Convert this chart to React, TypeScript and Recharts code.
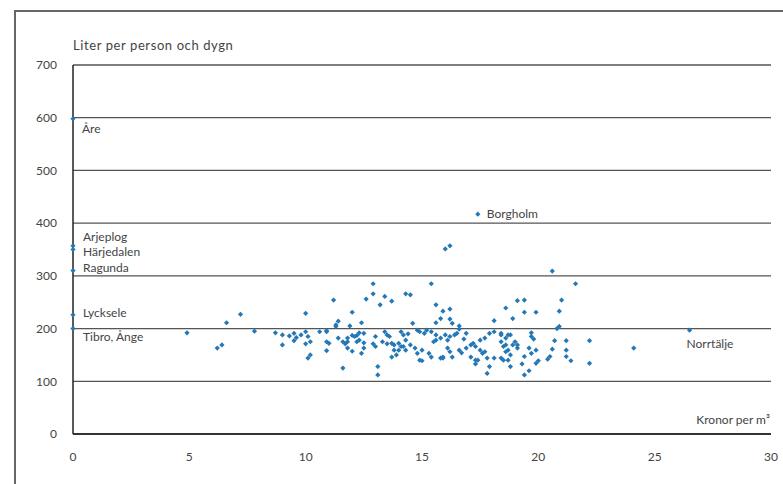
import { CartesianGrid, Scatter, ScatterChart, XAxis, YAxis } from "recharts"

const xTicks = [0, 5, 10, 15, 20, 25, 30]
const yTicks = [0, 100, 200, 300, 400, 500, 600, 700]

// named municipalities
const namedLabels = ["Åre", "Arjeplog", "Härjedalen", "Ragunda", "Lycksele", "Tibro, Ånge", "Borgholm", "Norrtälje"]
const namedKronor = [0, 0, 0, 0, 0, 0, 17.4, 26.5]
const namedLiter = [598, 357, 350, 310, 226, 200, 417, 197]

// kronor per m3, liter per person och dygn
const municipalities: [number, number][] = [
  [4.9, 192], [6.6, 211], [7.2, 227], [7.8, 195], [6.2, 163], [6.4, 169], [8.7, 192], [9.0, 188],
  [9.0, 169], [9.3, 186], [9.5, 191], [9.6, 183], [9.5, 177], [10.0, 229], [9.8, 188], [10.0, 194],
  [10.1, 185], [10.2, 175], [10.0, 171], [10.2, 150], [10.1, 144], [10.6, 194], [10.9, 194], [10.9, 196],
  [10.9, 175], [11.0, 172], [10.9, 158], [11.2, 254], [11.3, 204], [11.3, 207], [11.4, 214], [11.4, 182],
  [11.6, 125], [11.6, 175], [11.7, 171], [11.8, 175], [11.8, 182], [12.0, 231], [11.9, 205], [12.0, 187],
  [12.1, 185], [12.2, 187], [11.8, 163], [12.0, 157], [12.2, 175], [12.3, 178], [12.4, 211], [12.3, 192],
  [12.5, 191], [12.5, 173], [12.5, 163], [12.4, 153], [12.6, 256], [12.9, 285], [12.9, 266], [13.0, 185],
  [12.9, 171], [13.0, 166], [13.1, 128], [13.1, 112], [13.2, 245], [13.4, 261], [13.7, 252], [14.3, 266],
  [14.5, 264], [13.4, 194], [13.5, 188], [13.6, 185], [13.3, 175], [13.5, 171], [13.7, 172], [13.8, 169],
  [14.0, 172], [14.1, 166], [14.0, 159], [13.8, 159], [13.7, 146], [13.9, 150], [14.2, 188], [14.3, 178],
  [14.1, 194], [14.4, 190], [14.8, 197], [14.9, 194], [15.1, 191], [15.2, 197], [15.4, 194], [15.6, 188],
  [15.6, 178], [15.5, 175], [15.8, 182], [16.0, 188], [16.1, 178], [16.2, 185], [16.4, 188], [16.5, 191],
  [16.9, 191], [16.8, 180], [17.1, 169], [17.2, 172], [17.3, 166], [17.5, 178], [17.7, 182], [17.9, 191],
  [18.1, 194], [18.4, 191], [18.4, 175], [18.5, 166], [18.6, 182], [18.8, 188], [14.2, 166], [14.3, 159],
  [14.5, 169], [14.7, 163], [14.8, 153], [15.0, 159], [14.9, 140], [15.3, 153], [15.4, 146], [15.8, 144],
  [15.9, 146], [16.1, 163], [16.2, 156], [16.3, 146], [16.6, 159], [16.7, 154], [16.9, 163], [17.1, 146],
  [17.3, 140], [17.5, 159], [17.6, 153], [17.7, 156], [17.8, 144], [17.9, 128], [17.8, 115], [18.1, 144],
  [18.4, 144], [18.5, 140], [18.6, 156], [14.6, 210], [15.4, 285], [15.6, 245], [15.9, 233], [16.2, 237],
  [15.8, 219], [15.6, 211], [16.2, 218], [16.3, 210], [16.6, 205], [16.6, 199], [18.1, 215], [18.6, 239],
  [16.0, 351], [16.2, 357], [20.6, 309], [21.6, 285], [19.1, 253], [19.4, 254], [19.4, 231], [19.9, 231],
  [18.9, 219], [21.0, 254], [20.9, 233], [20.9, 204], [20.8, 200], [18.4, 188], [18.7, 188], [19.7, 192],
  [19.7, 185], [19.8, 180], [19.0, 175], [19.1, 169], [19.1, 163], [18.9, 169], [18.6, 169], [18.7, 159],
  [18.8, 150], [18.7, 140], [18.8, 128], [19.6, 163], [19.9, 159], [19.7, 153], [20.7, 177], [21.2, 177],
  [22.2, 177], [20.6, 161], [21.2, 159], [19.4, 147], [20.0, 139], [19.9, 134], [20.4, 142], [20.5, 147],
  [21.2, 147], [21.4, 139], [22.2, 134], [19.3, 133], [19.4, 112], [19.6, 120], [17.3, 133], [17.4, 140],
  [24.1, 163], [15.0, 139], [15.9, 144],
]

const pointData = municipalities.map(([kr, liter]) => ({ kr, liter }))
const namedData = namedLabels.map((name, i) => ({ name, kr: namedKronor[i], liter: namedLiter[i] }))

// where each name sits relative to its dot
const labelOffset: Record<string, [number, number]> = {
  "Åre": [9, 10],
  "Arjeplog": [10, -9],
  "Härjedalen": [10, 2],
  "Ragunda": [10, -3],
  "Lycksele": [10, -2],
  "Tibro, Ånge": [10, 8],
  "Borgholm": [9, 0],
  "Norrtälje": [-3, 14],
}

const BLUE = "#2478b5"
const TEXT = "#444"
const FONT = "Lato, 'Noto Sans', sans-serif"

function Dot(props: any) {
  const { cx, cy } = props
  const r = 2.6
  return (
    <path
      d={`M${cx},${cy - r}L${cx + r},${cy}L${cx},${cy + r}L${cx - r},${cy}Z`}
      fill={BLUE}
    />
  )
}

function NamedDot(props: any) {
  const { cx, cy, payload } = props
  const [dx, dy] = labelOffset[payload.name] || [8, 0]
  return (
    <g>
      <Dot cx={cx} cy={cy} />
      <text x={cx + dx} y={cy + dy} dy="0.35em" fontSize={12} fill={TEXT} fontFamily={FONT}>
        {payload.name}
      </text>
    </g>
  )
}

export default function App() {
  return (
    <div style={{ position: "absolute", left: 0, top: 0, width: 783, height: 484, background: "#fff" }}>
      <div
        style={{
          position: "absolute",
          left: 14,
          top: 10,
          width: 769,
          height: 474,
          borderTop: "2px solid #666",
          borderLeft: "2px solid #666",
        }}
      />
      <div style={{ position: "absolute", left: 0, top: 0 }}>
        <ScatterChart width={783} height={484} margin={{ top: 65, right: 12, bottom: 20, left: 23 }}>
          <CartesianGrid vertical={false} stroke="#555" strokeWidth={1.3} />
          <XAxis
            type="number"
            dataKey="kr"
            domain={[0, 30]}
            ticks={xTicks}
            interval={0}
            tickLine={false}
            axisLine={{ stroke: "#333", strokeWidth: 2 }}
            tick={{ fontSize: 12, fill: TEXT, fontFamily: FONT }}
            tickMargin={12}
            height={30}
          />
          <YAxis
            type="number"
            dataKey="liter"
            domain={[0, 700]}
            ticks={yTicks}
            interval={0}
            tickLine={false}
            axisLine={{ stroke: "#222", strokeWidth: 1.5 }}
            tick={{ fontSize: 12, fill: TEXT, fontFamily: FONT }}
            tickMargin={10}
            width={50}
          />
          <Scatter data={pointData} fill={BLUE} shape={<Dot />} isAnimationActive={false} />
          <Scatter data={namedData} fill={BLUE} shape={<NamedDot />} isAnimationActive={false} />
          <text x={73} y={45} dy="0.35em" fontSize={13} letterSpacing={0.6} fill={TEXT} fontFamily={FONT}>
            Liter per person och dygn
          </text>
          <text x={770} y={420} dy="0.35em" fontSize={12} fill={TEXT} fontFamily={FONT} textAnchor="end">
            Kronor per m³
          </text>
        </ScatterChart>
      </div>
    </div>
  )
}
